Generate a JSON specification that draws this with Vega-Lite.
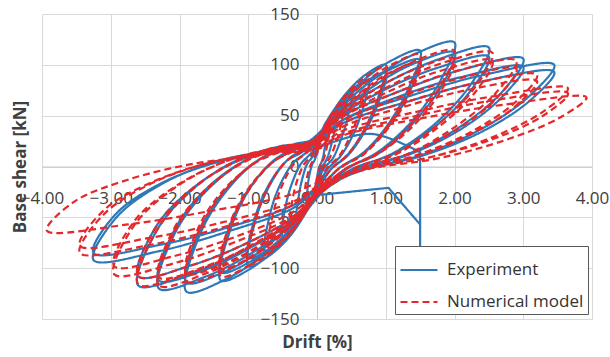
{
"$schema":"https://vega.github.io/schema/vega-lite/v6.json",
"width":550,"height":305,"autosize":"none",
"padding":{"left":42,"top":14,"right":18,"bottom":38},
"background":"white",
"config":{"view":{"stroke":null},"font":"Open Sans"},
"data":{"values":[
{"s":"Experiment","x":0,"y":11},{"s":"Experiment","x":0.02,"y":20},{"s":"Experiment","x":0.06,"y":32},{"s":"Experiment","x":0.11,"y":41},{"s":"Experiment","x":0.15,"y":45},{"s":"Experiment","x":0.14,"y":32},{"s":"Experiment","x":0.11,"y":17},{"s":"Experiment","x":0.07,"y":5},{"s":"Experiment","x":0.03,"y":-1},
{"s":"Experiment","x":0,"y":-11},{"s":"Experiment","x":-0.02,"y":-19},{"s":"Experiment","x":-0.06,"y":-29},{"s":"Experiment","x":-0.11,"y":-38},{"s":"Experiment","x":-0.15,"y":-42},{"s":"Experiment","x":-0.14,"y":-23},{"s":"Experiment","x":-0.11,"y":-8},{"s":"Experiment","x":-0.07,"y":2},{"s":"Experiment","x":-0.03,"y":7},
{"s":"Experiment","x":0,"y":15},{"s":"Experiment","x":0.05,"y":26},{"s":"Experiment","x":0.12,"y":41},{"s":"Experiment","x":0.21,"y":52},{"s":"Experiment","x":0.3,"y":58},{"s":"Experiment","x":0.27,"y":41},{"s":"Experiment","x":0.21,"y":22},{"s":"Experiment","x":0.14,"y":7},{"s":"Experiment","x":0.06,"y":-2},
{"s":"Experiment","x":0,"y":-14},{"s":"Experiment","x":-0.05,"y":-25},{"s":"Experiment","x":-0.12,"y":-39},{"s":"Experiment","x":-0.21,"y":-50},{"s":"Experiment","x":-0.3,"y":-56},{"s":"Experiment","x":-0.27,"y":-31},{"s":"Experiment","x":-0.21,"y":-11},{"s":"Experiment","x":-0.14,"y":3},{"s":"Experiment","x":-0.06,"y":10},
{"s":"Experiment","x":0,"y":18},{"s":"Experiment","x":0.08,"y":32},{"s":"Experiment","x":0.2,"y":49},{"s":"Experiment","x":0.35,"y":63},{"s":"Experiment","x":0.5,"y":70},{"s":"Experiment","x":0.45,"y":49},{"s":"Experiment","x":0.35,"y":27},{"s":"Experiment","x":0.23,"y":8},{"s":"Experiment","x":0.1,"y":-2},
{"s":"Experiment","x":0,"y":-17},{"s":"Experiment","x":-0.08,"y":-31},{"s":"Experiment","x":-0.2,"y":-48},{"s":"Experiment","x":-0.35,"y":-61},{"s":"Experiment","x":-0.5,"y":-68},{"s":"Experiment","x":-0.45,"y":-37},{"s":"Experiment","x":-0.35,"y":-14},{"s":"Experiment","x":-0.23,"y":3},{"s":"Experiment","x":-0.1,"y":12},
{"s":"Experiment","x":0,"y":21},{"s":"Experiment","x":0.11,"y":38},{"s":"Experiment","x":0.3,"y":60},{"s":"Experiment","x":0.53,"y":77},{"s":"Experiment","x":0.75,"y":85},{"s":"Experiment","x":0.68,"y":60},{"s":"Experiment","x":0.53,"y":32},{"s":"Experiment","x":0.34,"y":10},{"s":"Experiment","x":0.15,"y":-3},
{"s":"Experiment","x":0,"y":-21},{"s":"Experiment","x":-0.11,"y":-38},{"s":"Experiment","x":-0.3,"y":-59},{"s":"Experiment","x":-0.53,"y":-76},{"s":"Experiment","x":-0.75,"y":-84},{"s":"Experiment","x":-0.68,"y":-46},{"s":"Experiment","x":-0.53,"y":-17},{"s":"Experiment","x":-0.34,"y":4},{"s":"Experiment","x":-0.15,"y":14},
{"s":"Experiment","x":0,"y":25},{"s":"Experiment","x":0.15,"y":45},{"s":"Experiment","x":0.4,"y":70},{"s":"Experiment","x":0.7,"y":90},{"s":"Experiment","x":1,"y":100},{"s":"Experiment","x":0.9,"y":70},{"s":"Experiment","x":0.7,"y":38},{"s":"Experiment","x":0.45,"y":12},{"s":"Experiment","x":0.2,"y":-3},
{"s":"Experiment","x":0,"y":-25},{"s":"Experiment","x":-0.15,"y":-44},{"s":"Experiment","x":-0.4,"y":-69},{"s":"Experiment","x":-0.7,"y":-88},{"s":"Experiment","x":-1,"y":-98},{"s":"Experiment","x":-0.9,"y":-54},{"s":"Experiment","x":-0.7,"y":-20},{"s":"Experiment","x":-0.45,"y":5},{"s":"Experiment","x":-0.2,"y":17},
{"s":"Experiment","x":0,"y":23},{"s":"Experiment","x":0.15,"y":41},{"s":"Experiment","x":0.4,"y":64},{"s":"Experiment","x":0.7,"y":83},{"s":"Experiment","x":1,"y":92},{"s":"Experiment","x":0.9,"y":64},{"s":"Experiment","x":0.7,"y":35},{"s":"Experiment","x":0.45,"y":11},{"s":"Experiment","x":0.2,"y":-3},
{"s":"Experiment","x":0,"y":-23},{"s":"Experiment","x":-0.15,"y":-41},{"s":"Experiment","x":-0.4,"y":-63},{"s":"Experiment","x":-0.7,"y":-81},{"s":"Experiment","x":-1,"y":-90},{"s":"Experiment","x":-0.9,"y":-50},{"s":"Experiment","x":-0.7,"y":-18},{"s":"Experiment","x":-0.45,"y":5},{"s":"Experiment","x":-0.2,"y":15},
{"s":"Experiment","x":0,"y":29},{"s":"Experiment","x":0.23,"y":51},{"s":"Experiment","x":0.6,"y":80},{"s":"Experiment","x":1.05,"y":103},{"s":"Experiment","x":1.5,"y":114},{"s":"Experiment","x":1.35,"y":80},{"s":"Experiment","x":1.05,"y":43},{"s":"Experiment","x":0.68,"y":14},{"s":"Experiment","x":0.3,"y":-3},
{"s":"Experiment","x":0,"y":-28},{"s":"Experiment","x":-0.21,"y":-50},{"s":"Experiment","x":-0.56,"y":-78},{"s":"Experiment","x":-0.98,"y":-101},{"s":"Experiment","x":-1.4,"y":-112},{"s":"Experiment","x":-1.26,"y":-62},{"s":"Experiment","x":-0.98,"y":-22},{"s":"Experiment","x":-0.63,"y":6},{"s":"Experiment","x":-0.28,"y":19},
{"s":"Experiment","x":0,"y":26},{"s":"Experiment","x":0.23,"y":47},{"s":"Experiment","x":0.6,"y":74},{"s":"Experiment","x":1.05,"y":95},{"s":"Experiment","x":1.5,"y":105},{"s":"Experiment","x":1.35,"y":74},{"s":"Experiment","x":1.05,"y":40},{"s":"Experiment","x":0.68,"y":13},{"s":"Experiment","x":0.3,"y":-3},
{"s":"Experiment","x":0,"y":-26},{"s":"Experiment","x":-0.21,"y":-47},{"s":"Experiment","x":-0.56,"y":-73},{"s":"Experiment","x":-0.98,"y":-94},{"s":"Experiment","x":-1.4,"y":-104},{"s":"Experiment","x":-1.26,"y":-57},{"s":"Experiment","x":-0.98,"y":-21},{"s":"Experiment","x":-0.63,"y":5},{"s":"Experiment","x":-0.28,"y":18},
{"s":"Experiment","x":0,"y":31},{"s":"Experiment","x":0.3,"y":55},{"s":"Experiment","x":0.8,"y":85},{"s":"Experiment","x":1.4,"y":110},{"s":"Experiment","x":2,"y":122},{"s":"Experiment","x":1.8,"y":85},{"s":"Experiment","x":1.4,"y":46},{"s":"Experiment","x":0.9,"y":15},{"s":"Experiment","x":0.4,"y":-4},
{"s":"Experiment","x":0,"y":-31},{"s":"Experiment","x":-0.29,"y":-55},{"s":"Experiment","x":-0.76,"y":-86},{"s":"Experiment","x":-1.33,"y":-111},{"s":"Experiment","x":-1.9,"y":-123},{"s":"Experiment","x":-1.71,"y":-68},{"s":"Experiment","x":-1.33,"y":-25},{"s":"Experiment","x":-0.86,"y":6},{"s":"Experiment","x":-0.38,"y":21},
{"s":"Experiment","x":0,"y":28},{"s":"Experiment","x":0.3,"y":50},{"s":"Experiment","x":0.8,"y":78},{"s":"Experiment","x":1.4,"y":101},{"s":"Experiment","x":2,"y":112},{"s":"Experiment","x":1.8,"y":78},{"s":"Experiment","x":1.4,"y":43},{"s":"Experiment","x":0.9,"y":13},{"s":"Experiment","x":0.4,"y":-3},
{"s":"Experiment","x":0,"y":-29},{"s":"Experiment","x":-0.29,"y":-51},{"s":"Experiment","x":-0.76,"y":-80},{"s":"Experiment","x":-1.33,"y":-103},{"s":"Experiment","x":-1.9,"y":-114},{"s":"Experiment","x":-1.71,"y":-63},{"s":"Experiment","x":-1.33,"y":-23},{"s":"Experiment","x":-0.86,"y":6},{"s":"Experiment","x":-0.38,"y":19},
{"s":"Experiment","x":0,"y":29},{"s":"Experiment","x":0.32,"y":53},{"s":"Experiment","x":1,"y":82},{"s":"Experiment","x":1.75,"y":105},{"s":"Experiment","x":2.5,"y":117},{"s":"Experiment","x":2.25,"y":82},{"s":"Experiment","x":1.75,"y":44},{"s":"Experiment","x":1.13,"y":14},{"s":"Experiment","x":0.5,"y":-4},
{"s":"Experiment","x":0,"y":-30},{"s":"Experiment","x":-0.3,"y":-54},{"s":"Experiment","x":-0.92,"y":-84},{"s":"Experiment","x":-1.61,"y":-108},{"s":"Experiment","x":-2.3,"y":-120},{"s":"Experiment","x":-2.07,"y":-66},{"s":"Experiment","x":-1.61,"y":-24},{"s":"Experiment","x":-1.04,"y":6},{"s":"Experiment","x":-0.46,"y":20},
{"s":"Experiment","x":0,"y":27},{"s":"Experiment","x":0.32,"y":49},{"s":"Experiment","x":1,"y":76},{"s":"Experiment","x":1.75,"y":97},{"s":"Experiment","x":2.5,"y":108},{"s":"Experiment","x":2.25,"y":76},{"s":"Experiment","x":1.75,"y":41},{"s":"Experiment","x":1.13,"y":13},{"s":"Experiment","x":0.5,"y":-3},
{"s":"Experiment","x":0,"y":-28},{"s":"Experiment","x":-0.3,"y":-50},{"s":"Experiment","x":-0.92,"y":-78},{"s":"Experiment","x":-1.61,"y":-101},{"s":"Experiment","x":-2.3,"y":-112},{"s":"Experiment","x":-2.07,"y":-62},{"s":"Experiment","x":-1.61,"y":-22},{"s":"Experiment","x":-1.04,"y":6},{"s":"Experiment","x":-0.46,"y":19},
{"s":"Experiment","x":0,"y":27},{"s":"Experiment","x":0.33,"y":48},{"s":"Experiment","x":1.2,"y":74},{"s":"Experiment","x":2.1,"y":95},{"s":"Experiment","x":3,"y":106},{"s":"Experiment","x":2.7,"y":74},{"s":"Experiment","x":2.1,"y":40},{"s":"Experiment","x":1.35,"y":13},{"s":"Experiment","x":0.6,"y":-3},
{"s":"Experiment","x":0,"y":-29},{"s":"Experiment","x":-0.32,"y":-53},{"s":"Experiment","x":-1.04,"y":-82},{"s":"Experiment","x":-1.82,"y":-105},{"s":"Experiment","x":-2.6,"y":-117},{"s":"Experiment","x":-2.34,"y":-64},{"s":"Experiment","x":-1.82,"y":-23},{"s":"Experiment","x":-1.17,"y":6},{"s":"Experiment","x":-0.52,"y":20},
{"s":"Experiment","x":0,"y":25},{"s":"Experiment","x":0.33,"y":44},{"s":"Experiment","x":1.2,"y":69},{"s":"Experiment","x":2.1,"y":88},{"s":"Experiment","x":3,"y":98},{"s":"Experiment","x":2.7,"y":69},{"s":"Experiment","x":2.1,"y":37},{"s":"Experiment","x":1.35,"y":12},{"s":"Experiment","x":0.6,"y":-3},
{"s":"Experiment","x":0,"y":-27},{"s":"Experiment","x":-0.32,"y":-49},{"s":"Experiment","x":-1.04,"y":-76},{"s":"Experiment","x":-1.82,"y":-97},{"s":"Experiment","x":-2.6,"y":-108},{"s":"Experiment","x":-2.34,"y":-59},{"s":"Experiment","x":-1.82,"y":-22},{"s":"Experiment","x":-1.17,"y":5},{"s":"Experiment","x":-0.52,"y":18},
{"s":"Experiment","x":0,"y":25},{"s":"Experiment","x":0.36,"y":45},{"s":"Experiment","x":1.38,"y":70},{"s":"Experiment","x":2.42,"y":90},{"s":"Experiment","x":3.45,"y":100},{"s":"Experiment","x":3.1,"y":70},{"s":"Experiment","x":2.42,"y":38},{"s":"Experiment","x":1.55,"y":12},{"s":"Experiment","x":0.69,"y":-3},
{"s":"Experiment","x":0,"y":-23},{"s":"Experiment","x":-0.35,"y":-41},{"s":"Experiment","x":-1.3,"y":-64},{"s":"Experiment","x":-2.28,"y":-83},{"s":"Experiment","x":-3.25,"y":-92},{"s":"Experiment","x":-2.93,"y":-51},{"s":"Experiment","x":-2.28,"y":-18},{"s":"Experiment","x":-1.46,"y":5},{"s":"Experiment","x":-0.65,"y":16},
{"s":"Experiment","x":0,"y":23},{"s":"Experiment","x":0.36,"y":42},{"s":"Experiment","x":1.38,"y":65},{"s":"Experiment","x":2.42,"y":84},{"s":"Experiment","x":3.45,"y":93},{"s":"Experiment","x":3.1,"y":65},{"s":"Experiment","x":2.42,"y":35},{"s":"Experiment","x":1.55,"y":11},{"s":"Experiment","x":0.69,"y":-3},
{"s":"Experiment","x":0,"y":-21},{"s":"Experiment","x":-0.35,"y":-38},{"s":"Experiment","x":-1.3,"y":-60},{"s":"Experiment","x":-2.28,"y":-77},{"s":"Experiment","x":-3.25,"y":-85},{"s":"Experiment","x":-2.93,"y":-47},{"s":"Experiment","x":-2.28,"y":-17},{"s":"Experiment","x":-1.46,"y":4},{"s":"Experiment","x":-0.65,"y":14},
{"s":"Experiment","x":0,"y":20},{"s":"Experiment","x":0.8,"y":32},{"s":"Experiment","x":1.5,"y":14},{"s":"Experiment","x":1.5,"y":14},{"s":"Experiment","x":1.5,"y":-95},{"s":"Experiment","x":1.5,"y":-95},{"s":"Experiment","x":1.5,"y":-57},{"s":"Experiment","x":1.5,"y":-57},{"s":"Experiment","x":1.04,"y":-21},{"s":"Experiment","x":1.04,"y":-21},{"s":"Experiment","x":0.02,"y":-28},
{"s":"Numerical model","x":0,"y":12},{"s":"Numerical model","x":0.03,"y":22},{"s":"Numerical model","x":0.08,"y":34},{"s":"Numerical model","x":0.14,"y":43},{"s":"Numerical model","x":0.2,"y":48},{"s":"Numerical model","x":0.18,"y":34},{"s":"Numerical model","x":0.14,"y":18},{"s":"Numerical model","x":0.09,"y":6},{"s":"Numerical model","x":0.04,"y":-1},
{"s":"Numerical model","x":0,"y":-12},{"s":"Numerical model","x":-0.03,"y":-21},{"s":"Numerical model","x":-0.08,"y":-32},{"s":"Numerical model","x":-0.14,"y":-41},{"s":"Numerical model","x":-0.2,"y":-46},{"s":"Numerical model","x":-0.18,"y":-25},{"s":"Numerical model","x":-0.14,"y":-9},{"s":"Numerical model","x":-0.09,"y":2},{"s":"Numerical model","x":-0.04,"y":8},
{"s":"Numerical model","x":0,"y":16},{"s":"Numerical model","x":0.06,"y":29},{"s":"Numerical model","x":0.16,"y":45},{"s":"Numerical model","x":0.28,"y":58},{"s":"Numerical model","x":0.4,"y":64},{"s":"Numerical model","x":0.36,"y":45},{"s":"Numerical model","x":0.28,"y":24},{"s":"Numerical model","x":0.18,"y":8},{"s":"Numerical model","x":0.08,"y":-2},
{"s":"Numerical model","x":0,"y":-16},{"s":"Numerical model","x":-0.06,"y":-28},{"s":"Numerical model","x":-0.16,"y":-43},{"s":"Numerical model","x":-0.28,"y":-56},{"s":"Numerical model","x":-0.4,"y":-62},{"s":"Numerical model","x":-0.36,"y":-34},{"s":"Numerical model","x":-0.28,"y":-12},{"s":"Numerical model","x":-0.18,"y":3},{"s":"Numerical model","x":-0.08,"y":11},
{"s":"Numerical model","x":0,"y":21},{"s":"Numerical model","x":0.11,"y":37},{"s":"Numerical model","x":0.28,"y":57},{"s":"Numerical model","x":0.49,"y":74},{"s":"Numerical model","x":0.7,"y":82},{"s":"Numerical model","x":0.63,"y":57},{"s":"Numerical model","x":0.49,"y":31},{"s":"Numerical model","x":0.32,"y":10},{"s":"Numerical model","x":0.14,"y":-2},
{"s":"Numerical model","x":0,"y":-20},{"s":"Numerical model","x":-0.11,"y":-36},{"s":"Numerical model","x":-0.28,"y":-56},{"s":"Numerical model","x":-0.49,"y":-72},{"s":"Numerical model","x":-0.7,"y":-80},{"s":"Numerical model","x":-0.63,"y":-44},{"s":"Numerical model","x":-0.49,"y":-16},{"s":"Numerical model","x":-0.32,"y":4},{"s":"Numerical model","x":-0.14,"y":14},
{"s":"Numerical model","x":0,"y":25},{"s":"Numerical model","x":0.15,"y":44},{"s":"Numerical model","x":0.4,"y":69},{"s":"Numerical model","x":0.7,"y":88},{"s":"Numerical model","x":1,"y":98},{"s":"Numerical model","x":0.9,"y":69},{"s":"Numerical model","x":0.7,"y":37},{"s":"Numerical model","x":0.45,"y":12},{"s":"Numerical model","x":0.2,"y":-3},
{"s":"Numerical model","x":0,"y":-24},{"s":"Numerical model","x":-0.15,"y":-43},{"s":"Numerical model","x":-0.4,"y":-67},{"s":"Numerical model","x":-0.7,"y":-86},{"s":"Numerical model","x":-1,"y":-96},{"s":"Numerical model","x":-0.9,"y":-53},{"s":"Numerical model","x":-0.7,"y":-19},{"s":"Numerical model","x":-0.45,"y":5},{"s":"Numerical model","x":-0.2,"y":16},
{"s":"Numerical model","x":0,"y":28},{"s":"Numerical model","x":0.23,"y":50},{"s":"Numerical model","x":0.6,"y":77},{"s":"Numerical model","x":1.05,"y":99},{"s":"Numerical model","x":1.5,"y":110},{"s":"Numerical model","x":1.35,"y":77},{"s":"Numerical model","x":1.05,"y":42},{"s":"Numerical model","x":0.68,"y":13},{"s":"Numerical model","x":0.3,"y":-3},
{"s":"Numerical model","x":0,"y":-27},{"s":"Numerical model","x":-0.21,"y":-49},{"s":"Numerical model","x":-0.56,"y":-76},{"s":"Numerical model","x":-0.98,"y":-97},{"s":"Numerical model","x":-1.4,"y":-108},{"s":"Numerical model","x":-1.26,"y":-59},{"s":"Numerical model","x":-0.98,"y":-22},{"s":"Numerical model","x":-0.63,"y":5},{"s":"Numerical model","x":-0.28,"y":18},
{"s":"Numerical model","x":0,"y":26},{"s":"Numerical model","x":0.23,"y":46},{"s":"Numerical model","x":0.6,"y":71},{"s":"Numerical model","x":1.05,"y":92},{"s":"Numerical model","x":1.5,"y":102},{"s":"Numerical model","x":1.35,"y":71},{"s":"Numerical model","x":1.05,"y":39},{"s":"Numerical model","x":0.68,"y":12},{"s":"Numerical model","x":0.3,"y":-3},
{"s":"Numerical model","x":0,"y":-25},{"s":"Numerical model","x":-0.21,"y":-45},{"s":"Numerical model","x":-0.56,"y":-70},{"s":"Numerical model","x":-0.98,"y":-90},{"s":"Numerical model","x":-1.4,"y":-100},{"s":"Numerical model","x":-1.26,"y":-55},{"s":"Numerical model","x":-0.98,"y":-20},{"s":"Numerical model","x":-0.63,"y":5},{"s":"Numerical model","x":-0.28,"y":17},
{"s":"Numerical model","x":0,"y":29},{"s":"Numerical model","x":0.3,"y":51},{"s":"Numerical model","x":0.8,"y":80},{"s":"Numerical model","x":1.4,"y":103},{"s":"Numerical model","x":2,"y":114},{"s":"Numerical model","x":1.8,"y":80},{"s":"Numerical model","x":1.4,"y":43},{"s":"Numerical model","x":0.9,"y":14},{"s":"Numerical model","x":0.4,"y":-3},
{"s":"Numerical model","x":0,"y":-28},{"s":"Numerical model","x":-0.29,"y":-51},{"s":"Numerical model","x":-0.76,"y":-79},{"s":"Numerical model","x":-1.33,"y":-102},{"s":"Numerical model","x":-1.9,"y":-113},{"s":"Numerical model","x":-1.71,"y":-62},{"s":"Numerical model","x":-1.33,"y":-23},{"s":"Numerical model","x":-0.86,"y":6},{"s":"Numerical model","x":-0.38,"y":19},
{"s":"Numerical model","x":0,"y":27},{"s":"Numerical model","x":0.3,"y":48},{"s":"Numerical model","x":0.8,"y":74},{"s":"Numerical model","x":1.4,"y":95},{"s":"Numerical model","x":2,"y":106},{"s":"Numerical model","x":1.8,"y":74},{"s":"Numerical model","x":1.4,"y":40},{"s":"Numerical model","x":0.9,"y":13},{"s":"Numerical model","x":0.4,"y":-3},
{"s":"Numerical model","x":0,"y":-26},{"s":"Numerical model","x":-0.29,"y":-47},{"s":"Numerical model","x":-0.76,"y":-74},{"s":"Numerical model","x":-1.33,"y":-95},{"s":"Numerical model","x":-1.9,"y":-105},{"s":"Numerical model","x":-1.71,"y":-58},{"s":"Numerical model","x":-1.33,"y":-21},{"s":"Numerical model","x":-0.86,"y":5},{"s":"Numerical model","x":-0.38,"y":18},
{"s":"Numerical model","x":0,"y":28},{"s":"Numerical model","x":0.32,"y":50},{"s":"Numerical model","x":1.02,"y":78},{"s":"Numerical model","x":1.79,"y":101},{"s":"Numerical model","x":2.55,"y":112},{"s":"Numerical model","x":2.3,"y":78},{"s":"Numerical model","x":1.79,"y":43},{"s":"Numerical model","x":1.15,"y":13},{"s":"Numerical model","x":0.51,"y":-3},
{"s":"Numerical model","x":0,"y":-29},{"s":"Numerical model","x":-0.3,"y":-53},{"s":"Numerical model","x":-0.92,"y":-82},{"s":"Numerical model","x":-1.61,"y":-105},{"s":"Numerical model","x":-2.3,"y":-117},{"s":"Numerical model","x":-2.07,"y":-64},{"s":"Numerical model","x":-1.61,"y":-23},{"s":"Numerical model","x":-1.04,"y":6},{"s":"Numerical model","x":-0.46,"y":20},
{"s":"Numerical model","x":0,"y":26},{"s":"Numerical model","x":0.32,"y":47},{"s":"Numerical model","x":1.02,"y":73},{"s":"Numerical model","x":1.79,"y":94},{"s":"Numerical model","x":2.55,"y":104},{"s":"Numerical model","x":2.3,"y":73},{"s":"Numerical model","x":1.79,"y":40},{"s":"Numerical model","x":1.15,"y":12},{"s":"Numerical model","x":0.51,"y":-3},
{"s":"Numerical model","x":0,"y":-27},{"s":"Numerical model","x":-0.3,"y":-49},{"s":"Numerical model","x":-0.92,"y":-76},{"s":"Numerical model","x":-1.61,"y":-98},{"s":"Numerical model","x":-2.3,"y":-109},{"s":"Numerical model","x":-2.07,"y":-60},{"s":"Numerical model","x":-1.61,"y":-22},{"s":"Numerical model","x":-1.04,"y":5},{"s":"Numerical model","x":-0.46,"y":19},
{"s":"Numerical model","x":0,"y":26},{"s":"Numerical model","x":0.33,"y":47},{"s":"Numerical model","x":1.16,"y":73},{"s":"Numerical model","x":2.03,"y":94},{"s":"Numerical model","x":2.9,"y":104},{"s":"Numerical model","x":2.61,"y":73},{"s":"Numerical model","x":2.03,"y":40},{"s":"Numerical model","x":1.31,"y":12},{"s":"Numerical model","x":0.58,"y":-3},
{"s":"Numerical model","x":0,"y":-29},{"s":"Numerical model","x":-0.32,"y":-52},{"s":"Numerical model","x":-1.04,"y":-81},{"s":"Numerical model","x":-1.82,"y":-104},{"s":"Numerical model","x":-2.6,"y":-116},{"s":"Numerical model","x":-2.34,"y":-64},{"s":"Numerical model","x":-1.82,"y":-23},{"s":"Numerical model","x":-1.17,"y":6},{"s":"Numerical model","x":-0.52,"y":20},
{"s":"Numerical model","x":0,"y":24},{"s":"Numerical model","x":0.33,"y":43},{"s":"Numerical model","x":1.16,"y":67},{"s":"Numerical model","x":2.03,"y":86},{"s":"Numerical model","x":2.9,"y":96},{"s":"Numerical model","x":2.61,"y":67},{"s":"Numerical model","x":2.03,"y":36},{"s":"Numerical model","x":1.31,"y":12},{"s":"Numerical model","x":0.58,"y":-3},
{"s":"Numerical model","x":0,"y":-27},{"s":"Numerical model","x":-0.32,"y":-49},{"s":"Numerical model","x":-1.04,"y":-76},{"s":"Numerical model","x":-1.82,"y":-97},{"s":"Numerical model","x":-2.6,"y":-108},{"s":"Numerical model","x":-2.34,"y":-59},{"s":"Numerical model","x":-1.82,"y":-22},{"s":"Numerical model","x":-1.17,"y":5},{"s":"Numerical model","x":-0.52,"y":18},
{"s":"Numerical model","x":0,"y":23},{"s":"Numerical model","x":0.34,"y":41},{"s":"Numerical model","x":1.28,"y":63},{"s":"Numerical model","x":2.24,"y":81},{"s":"Numerical model","x":3.2,"y":90},{"s":"Numerical model","x":2.88,"y":63},{"s":"Numerical model","x":2.24,"y":34},{"s":"Numerical model","x":1.44,"y":11},{"s":"Numerical model","x":0.64,"y":-3},
{"s":"Numerical model","x":0,"y":-27},{"s":"Numerical model","x":-0.33,"y":-48},{"s":"Numerical model","x":-1.18,"y":-74},{"s":"Numerical model","x":-2.07,"y":-95},{"s":"Numerical model","x":-2.95,"y":-106},{"s":"Numerical model","x":-2.66,"y":-58},{"s":"Numerical model","x":-2.07,"y":-21},{"s":"Numerical model","x":-1.33,"y":5},{"s":"Numerical model","x":-0.59,"y":18},
{"s":"Numerical model","x":0,"y":21},{"s":"Numerical model","x":0.34,"y":38},{"s":"Numerical model","x":1.28,"y":59},{"s":"Numerical model","x":2.24,"y":76},{"s":"Numerical model","x":3.2,"y":84},{"s":"Numerical model","x":2.88,"y":59},{"s":"Numerical model","x":2.24,"y":32},{"s":"Numerical model","x":1.44,"y":10},{"s":"Numerical model","x":0.64,"y":-3},
{"s":"Numerical model","x":0,"y":-25},{"s":"Numerical model","x":-0.33,"y":-44},{"s":"Numerical model","x":-1.18,"y":-69},{"s":"Numerical model","x":-2.07,"y":-88},{"s":"Numerical model","x":-2.95,"y":-98},{"s":"Numerical model","x":-2.66,"y":-54},{"s":"Numerical model","x":-2.07,"y":-20},{"s":"Numerical model","x":-1.33,"y":5},{"s":"Numerical model","x":-0.59,"y":17},
{"s":"Numerical model","x":0,"y":19},{"s":"Numerical model","x":0.37,"y":35},{"s":"Numerical model","x":1.46,"y":54},{"s":"Numerical model","x":2.56,"y":69},{"s":"Numerical model","x":3.65,"y":77},{"s":"Numerical model","x":3.29,"y":54},{"s":"Numerical model","x":2.56,"y":29},{"s":"Numerical model","x":1.64,"y":9},{"s":"Numerical model","x":0.73,"y":-2},
{"s":"Numerical model","x":0,"y":-21},{"s":"Numerical model","x":-0.36,"y":-38},{"s":"Numerical model","x":-1.38,"y":-60},{"s":"Numerical model","x":-2.42,"y":-77},{"s":"Numerical model","x":-3.45,"y":-85},{"s":"Numerical model","x":-3.1,"y":-47},{"s":"Numerical model","x":-2.42,"y":-17},{"s":"Numerical model","x":-1.55,"y":4},{"s":"Numerical model","x":-0.69,"y":14},
{"s":"Numerical model","x":0,"y":18},{"s":"Numerical model","x":0.37,"y":32},{"s":"Numerical model","x":1.46,"y":50},{"s":"Numerical model","x":2.56,"y":65},{"s":"Numerical model","x":3.65,"y":72},{"s":"Numerical model","x":3.29,"y":50},{"s":"Numerical model","x":2.56,"y":27},{"s":"Numerical model","x":1.64,"y":9},{"s":"Numerical model","x":0.73,"y":-2},
{"s":"Numerical model","x":0,"y":-20},{"s":"Numerical model","x":-0.36,"y":-35},{"s":"Numerical model","x":-1.38,"y":-55},{"s":"Numerical model","x":-2.42,"y":-70},{"s":"Numerical model","x":-3.45,"y":-78},{"s":"Numerical model","x":-3.1,"y":-43},{"s":"Numerical model","x":-2.42,"y":-16},{"s":"Numerical model","x":-1.55,"y":4},{"s":"Numerical model","x":-0.69,"y":13},
{"s":"Numerical model","x":0,"y":17},{"s":"Numerical model","x":0.4,"y":31},{"s":"Numerical model","x":1.57,"y":48},{"s":"Numerical model","x":2.74,"y":61},{"s":"Numerical model","x":3.92,"y":68},{"s":"Numerical model","x":3.53,"y":48},{"s":"Numerical model","x":2.74,"y":26},{"s":"Numerical model","x":1.76,"y":8},{"s":"Numerical model","x":0.78,"y":-2},
{"s":"Numerical model","x":0,"y":-16},{"s":"Numerical model","x":-0.4,"y":-28},{"s":"Numerical model","x":-1.57,"y":-44},{"s":"Numerical model","x":-2.75,"y":-57},{"s":"Numerical model","x":-3.93,"y":-63},{"s":"Numerical model","x":-3.54,"y":-35},{"s":"Numerical model","x":-2.75,"y":-13},{"s":"Numerical model","x":-1.77,"y":3},{"s":"Numerical model","x":-0.79,"y":11}
]},
"mark":{"type":"line","strokeWidth":2.2,"interpolate":"catmull-rom"},
"encoding":{
"x":{"field":"x","type":"quantitative","scale":{"domain":[-4,4],"nice":false},
 "axis":{"title":"Drift [%]","values":[-4,-3,-2,-1,0,1,2,3,4],"format":".2f","offset":-152.5,"tickSize":0,"domainColor":"#c8c8c8","gridColor":"#d9d9d9","labelFontSize":17,"labelPadding":24,"labelColor":"#404040","labelFlush":false,"labelOverlap":false,"titleFontSize":17,"titleFontWeight":"bold","titleColor":"#404040","titleY":176,"titleBaseline":"middle"}},
"y":{"field":"y","type":"quantitative","scale":{"domain":[-150,150],"nice":false},
 "axis":{"title":"Base shear [kN]","values":[-150,-100,-50,0,50,100,150],"offset":-275,"tickSize":0,"domainColor":"#c8c8c8","gridColor":"#d9d9d9","labelFontSize":17,"labelPadding":18,"labelColor":"#404040","labelFlush":false,"labelOverlap":false,"titleFontSize":17,"titleFontWeight":"bold","titleColor":"#404040","titleX":-297,"titleY":152.5,"titleBaseline":"middle","titleAlign":"center","titleAngle":-90}},
"color":{"field":"s","type":"nominal","scale":{"domain":["Experiment","Numerical model"],"range":["#2e78b8","#e4282b"]},
 "legend":{"title":null,"orient":"none","legendX":353,"legendY":232,"direction":"vertical","strokeColor":"#595959","fillColor":"white","padding":4,"labelFontSize":17,"labelColor":"#333333","symbolType":"stroke","symbolSize":1369,"symbolStrokeWidth":2.2,"rowPadding":4,"labelOffset":8}},
"strokeDash":{"field":"s","type":"nominal","scale":{"domain":["Experiment","Numerical model"],"range":[[1,0],[7,4]]},
 "legend":{"title":null,"orient":"none","legendX":353,"legendY":232,"direction":"vertical","strokeColor":"#595959","fillColor":"white","padding":4,"labelFontSize":17,"labelColor":"#333333","symbolType":"stroke","symbolSize":1369,"symbolStrokeWidth":2.2,"rowPadding":4,"labelOffset":8}},
"order":{"value":null}
}
}
